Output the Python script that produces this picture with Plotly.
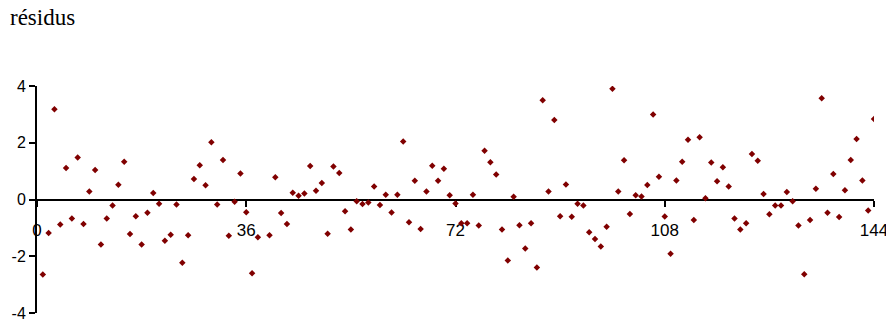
import plotly.graph_objects as go

# residuals, index 1..144 (point 39 not visible in the reference)
x_index = list(range(1, 145))
residus = [
    -2.64, -1.18, 3.18, -0.88, 1.11, -0.67, 1.48, -0.86, 0.28, 1.04,
    -1.59, -0.67, -0.21, 0.52, 1.33, -1.22, -0.59, -1.59, -0.47, 0.23,
    -0.15, -1.45, -1.24, -0.18, -2.23, -1.26, 0.72, 1.21, 0.50, 2.02,
    -0.18, 1.39, -1.28, -0.08, 0.92, -0.45, -2.60, -1.33, None, -1.26,
    0.78, -0.48, -0.86, 0.24, 0.13, 0.21, 1.18, 0.31, 0.58, -1.21,
    1.16, 0.93, -0.41, -1.06, -0.06, -0.16, -0.11, 0.46, -0.19, 0.17,
    -0.46, 0.17, 2.04, -0.80, 0.66, -1.04, 0.28, 1.19, 0.66, 1.08,
    0.15, -0.14, -0.84, -0.84, 0.17, -0.92, 1.72, 1.31, 0.88, -1.06,
    -2.15, 0.10, -0.91, -1.73, -0.84, -2.40, 3.50, 0.28, 2.80, -0.59,
    0.53, -0.61, -0.15, -0.21, -1.15, -1.39, -1.66, -0.96, 3.90, 0.28,
    1.38, -0.51, 0.15, 0.11, 0.51, 3.00, 0.80, -0.60, -1.91, 0.67,
    1.33, 2.11, -0.72, 2.19, 0.04, 1.30, 0.64, 1.14, 0.46, -0.67,
    -1.06, -0.84, 1.60, 1.37, 0.19, -0.52, -0.21, -0.21, 0.26, -0.06,
    -0.92, -2.63, -0.72, 0.38, 3.57, -0.47, 0.90, -0.62, 0.33, 1.39,
    2.13, 0.67, -0.39, 2.84,
]
x_ticks = [0, 36, 72, 108, 144]
y_ticks = [-4, -2, 0, 2, 4]
title_text = "résidus"

W, H = 886, 314  # page adds an 8px body margin

fig = go.Figure()
fig.add_trace(go.Scatter(
    x=x_index, y=residus, mode="markers",
    marker=dict(symbol="diamond", size=5, color="#800000", line=dict(width=0)),
    showlegend=False, hoverinfo="skip",
))

fig.update_layout(
    width=W, height=H,
    margin=dict(l=29, r=20, t=78, b=9, autoexpand=False),
    paper_bgcolor="white", plot_bgcolor="white",
    showlegend=False,
    title=dict(
        text=title_text, x=2/W, xanchor="left", xref="container",
        y=1 - 1/H, yanchor="top", yref="container",
        font=dict(family="Liberation Serif, Times New Roman, serif", size=23, color="black"),
    ),
    xaxis=dict(
        range=[0, 144], tickvals=x_ticks, ticktext=[str(v) for v in x_ticks],
        anchor="free", position=0.5,
        showline=True, linecolor="black", linewidth=2,
        ticks="outside", ticklen=6, tickwidth=2, tickcolor="black",
        ticklabelstandoff=9,
        showgrid=False, zeroline=False, automargin=False,
        tickfont=dict(family="Liberation Sans, Arial, sans-serif", size=17, color="black"),
        layer="below traces",
    ),
    yaxis=dict(
        range=[-4, 4], tickvals=y_ticks, ticktext=[str(v) for v in y_ticks],
        showline=True, linecolor="black", linewidth=2,
        ticks="outside", ticklen=6, tickwidth=2, tickcolor="black",
        showgrid=False, zeroline=False, automargin=False,
        tickfont=dict(family="Liberation Sans, Arial, sans-serif", size=16, color="black"),
        layer="below traces",
    ),
)

fig.write_html("out.html")
